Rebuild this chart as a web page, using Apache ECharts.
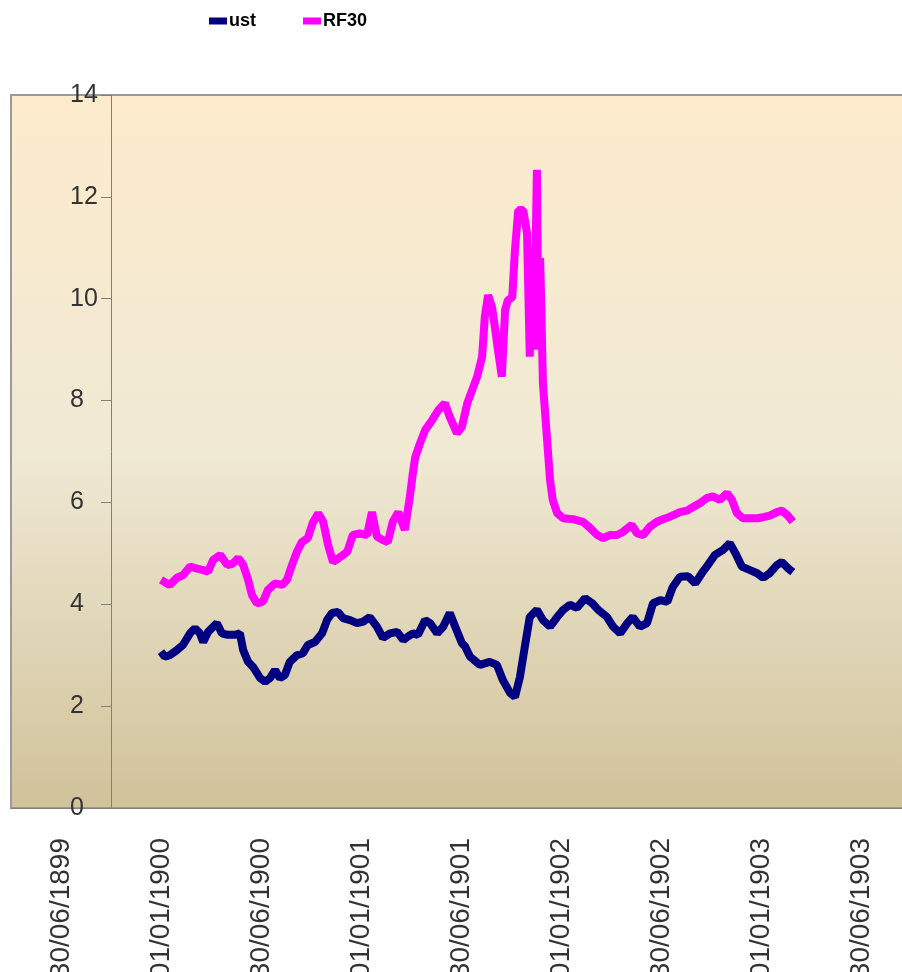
<!DOCTYPE html>
<html>
<head>
<meta charset="utf-8">
<title>ust / RF30</title>
<script src="https://cdn.jsdelivr.net/npm/echarts@6/dist/echarts.min.js"></script>
<style>
  html, body { margin: 0; padding: 0; background: #fff; }
  #chart { width: 902px; height: 972px; }
</style>
</head>
<body>
<div id="chart"></div>
<script>
// tick labels of the date axis (one per half year)
const dateLabels = ['30/06/1899', '01/01/1900', '30/06/1900', '01/01/1901', '30/06/1901',
  '01/01/1902', '30/06/1902', '01/01/1903', '30/06/1903']

// day numbers (day 1 = 01/01/1900) and values
const ustDays = [1, 8, 17, 30, 41, 54, 63, 72, 78, 87, 103, 112, 123, 136, 145, 151, 160, 169, 182, 191,
  200, 209, 218, 227, 236, 249, 260, 269, 282, 295, 304, 313, 324, 333, 346, 359, 370, 382, 395, 406,
  419, 432, 443, 452, 461, 470, 483, 492, 505, 516, 528, 538, 550, 556, 565, 583, 601, 614, 625, 638,
  647, 656, 665, 674, 687, 698, 711, 724, 735, 747, 760, 775, 788, 799, 815, 826, 839, 852, 862, 875,
  888, 899, 912, 925, 935, 948, 963, 976, 988, 999, 1012, 1027, 1039, 1049, 1061, 1076, 1089, 1100, 1112, 1125,
  1134, 1145, 1154]
const ustValues = [3.07, 2.97, 3.00, 3.10, 3.20, 3.43, 3.53, 3.43, 3.26, 3.46, 3.63, 3.43, 3.40, 3.40, 3.43, 3.10, 2.87, 2.77, 2.55, 2.48,
  2.55, 2.71, 2.55, 2.61, 2.87, 3.00, 3.04, 3.20, 3.26, 3.43, 3.69, 3.83, 3.85, 3.73, 3.69, 3.63, 3.66, 3.75, 3.56, 3.34,
  3.43, 3.46, 3.30, 3.37, 3.43, 3.40, 3.69, 3.63, 3.43, 3.56, 3.83, 3.56, 3.24, 3.17, 2.97, 2.81, 2.87, 2.81, 2.51, 2.26,
  2.18, 2.57, 3.17, 3.75, 3.89, 3.69, 3.56, 3.75, 3.89, 3.99, 3.93, 4.12, 4.02, 3.89, 3.75, 3.56, 3.43, 3.63, 3.75, 3.56,
  3.63, 4.02, 4.08, 4.05, 4.34, 4.54, 4.55, 4.41, 4.61, 4.77, 4.97, 5.07, 5.20, 5.01, 4.74, 4.67, 4.61, 4.52, 4.61, 4.77,
  4.83, 4.71, 4.63]

const rfDays = [1, 17, 30, 41, 54, 67, 78, 87, 96, 109, 122, 132, 142, 151, 160, 167, 176, 187, 196, 209,
  222, 231, 240, 249, 258, 269, 278, 288, 297, 306, 315, 328, 341, 351, 364, 377, 386, 395, 406, 415,
  424, 434, 446, 455, 461, 465, 474, 483, 496, 507, 519, 528, 541, 550, 560, 569, 578, 587, 592, 598,
  605, 611, 616, 623, 629, 634, 642, 647, 653, 662, 669, 674, 677, 680, 684, 687, 690, 693, 698, 706,
  711, 716, 724, 735, 753, 771, 784, 797, 808, 820, 833, 844, 860, 870, 881, 893, 906, 917, 930, 948,
  961, 972, 985, 998, 1008, 1021, 1034, 1043, 1052, 1063, 1076, 1089, 1100, 1112, 1125, 1134, 1145, 1154]
const rfValues = [4.48, 4.38, 4.52, 4.57, 4.74, 4.70, 4.67, 4.64, 4.87, 4.97, 4.77, 4.80, 4.91, 4.77, 4.48, 4.18, 4.02, 4.05, 4.28, 4.41,
  4.38, 4.48, 4.77, 5.03, 5.22, 5.30, 5.60, 5.79, 5.62, 5.16, 4.83, 4.93, 5.03, 5.36, 5.39, 5.36, 5.81, 5.33, 5.26, 5.22,
  5.62, 5.81, 5.46, 6.10, 6.60, 6.89, 7.17, 7.42, 7.62, 7.81, 7.95, 7.68, 7.36, 7.48, 7.95, 8.21, 8.47, 8.86, 9.65, 10.07,
  9.84, 9.39, 8.99, 8.47, 9.78, 9.97, 10.03, 10.96, 11.74, 11.74, 11.29, 8.86, 11.0, 9.0, 10.5, 12.53, 9.0, 10.8, 8.34, 7.17,
  6.44, 6.05, 5.79, 5.69, 5.67, 5.62, 5.50, 5.36, 5.30, 5.36, 5.36, 5.42, 5.56, 5.39, 5.36, 5.52, 5.62, 5.67, 5.72, 5.81,
  5.84, 5.91, 5.99, 6.09, 6.12, 6.05, 6.18, 6.05, 5.79, 5.69, 5.69, 5.69, 5.71, 5.74, 5.81, 5.84, 5.74, 5.62]

// each label slot is half a year wide, 01/01/1900 (day 1) sits in the middle of slot 1
const halfYear = 182.5
const dayMin = 1 - 1.5 * halfYear
const dayMax = dayMin + dateLabels.length * halfYear

const zip = (xs, ys) => xs.map((x, i) => [x, ys[i]])

const labelFont = "'Liberation Sans', Arial, sans-serif"
const chart = echarts.init(document.getElementById('chart'))

chart.setOption({
  animation: false,
  backgroundColor: '#ffffff',
  legend: {
    data: ['ust', 'RF30'],
    left: 209,
    top: 12,
    padding: 0,
    icon: 'rect',
    itemWidth: 18,
    itemHeight: 7,
    itemGap: 47,
    textStyle: {
      fontFamily: "'Liberation Sans Narrow', 'Arial Narrow', 'Liberation Sans', sans-serif",
      fontWeight: 'bold',
      fontSize: 18,
      color: '#000',
      padding: [0, 0, 0, -3]
    }
  },
  grid: {
    left: 11,
    top: 95,
    width: 900,
    height: 713,
    outerBoundsMode: 'none',
    containLabel: false,
    show: true,
    borderColor: '#9a9a9a',
    borderWidth: 2,
    backgroundColor: new echarts.graphic.LinearGradient(0, 0, 0, 1, [
      { offset: 0, color: '#fdebcc' },
      { offset: 0.5, color: '#f0e9d4' },
      { offset: 1, color: '#d0c29a' }
    ])
  },
  xAxis: [
    {
      type: 'category',
      data: dateLabels,
      boundaryGap: true,
      axisLine: { lineStyle: { color: '#808080', width: 1 } },
      axisTick: { alignWithLabel: false, length: 12, lineStyle: { color: '#9a9a9a' } },
      axisLabel: {
        rotate: 90,
        margin: 30,
        interval: 0,
        fontFamily: labelFont,
        fontSize: 28,
        color: '#333'
      },
      splitLine: { show: false }
    },
    {
      type: 'value',
      show: false,
      min: dayMin,
      max: dayMax
    }
  ],
  yAxis: {
    type: 'value',
    min: 0,
    max: 14,
    interval: 2,
    offset: -100,
    axisLine: { show: true, onZero: false, lineStyle: { color: '#808080', width: 1 } },
    axisTick: { show: true, length: 10, lineStyle: { color: '#808080' } },
    axisLabel: {
      margin: 41,
      align: 'left',
      fontFamily: labelFont,
      fontSize: 25,
      color: '#333'
    },
    splitLine: { show: false }
  },
  series: [
    {
      name: 'ust',
      type: 'line',
      xAxisIndex: 1,
      data: zip(ustDays, ustValues),
      showSymbol: false,
      color: '#000080',
      lineStyle: { width: 8, color: '#000080' }
    },
    {
      name: 'RF30',
      type: 'line',
      xAxisIndex: 1,
      data: zip(rfDays, rfValues),
      showSymbol: false,
      color: '#ff00ff',
      lineStyle: { width: 8, color: '#ff00ff' }
    }
  ]
})
</script>
</body>
</html>
